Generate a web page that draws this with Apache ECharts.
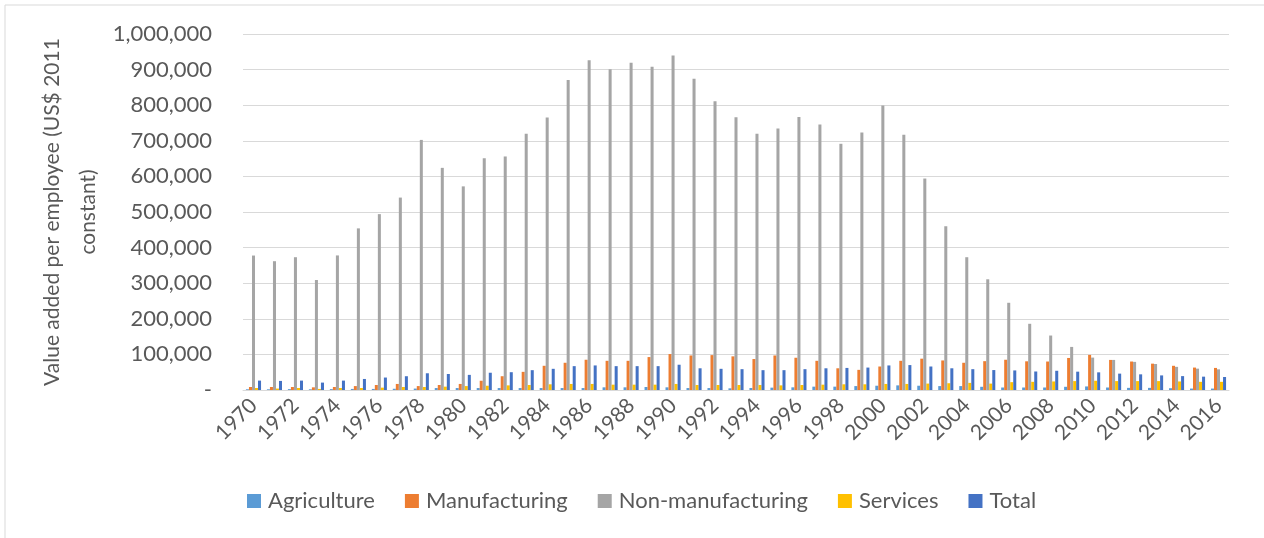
<!DOCTYPE html>
<html>
<head>
<meta charset="utf-8">
<script src="https://cdn.jsdelivr.net/npm/echarts@6/dist/echarts.min.js"></script>
<style>
  html, body { margin: 0; padding: 0; background: #ffffff; }
  #chart { width: 1264px; height: 538px; }
</style>
</head>
<body>
<div id="chart"></div>
<script>
// Years on the category axis
const years = [];
for (let y = 1970; y <= 2016; y++) years.push(String(y));

// Value added per employee, US$ 2011 constant
const agriculture = [
  2000, 2000, 2500, 2000, 2500, 3000, 3000, 3500, 4000, 5500,
  5500, 5500, 5500, 5500, 5500, 5500, 5500, 7500, 7500, 8500,
  7500, 5500, 5500, 4700, 5700, 6600, 7500, 9400, 9400, 11000,
  12000, 13000, 12000, 11000, 11000, 9000, 7000, 7000, 7000, 9000,
  10000, 7000, 6000, 6000, 5000, 4000, 4000
];
const manufacturing = [
  8500, 8500, 8500, 7500, 8500, 11000, 14000, 17000, 11000, 14000,
  17000, 26000, 38700, 51000, 68000, 76500, 85000, 82000, 82000, 92500,
  101000, 97000, 98000, 94500, 87000, 97000, 90600, 82000, 61000, 56600,
  66000, 82000, 88000, 83000, 76500, 81000, 85000, 80600, 80000, 90000,
  98600, 84500, 80000, 74000, 68000, 63000, 62000
];
const nonManufacturing = [
  377700, 361800, 373000, 309000, 378000, 454000, 494000, 540500, 702500, 624000,
  572000, 651000, 656000, 719700, 765500, 871000, 926500, 901000, 919000, 908000,
  939600, 874000, 811000, 766000, 719700, 734600, 767000, 746000, 691600, 723000,
  799000, 717000, 594000, 460000, 373000, 311000, 245000, 186000, 153000, 121000,
  91000, 84500, 79000, 73000, 65000, 60000, 58000
];
const services = [
  5700, 4000, 5700, 3000, 5700, 5700, 6600, 8500, 8500, 9400,
  11000, 12000, 13000, 14000, 16000, 17000, 17000, 15000, 15000, 15000,
  17000, 14000, 14000, 14000, 14000, 13000, 14000, 15000, 16000, 16000,
  17000, 17000, 18000, 19000, 20000, 18000, 22000, 23000, 24000, 25000,
  26000, 25000, 25000, 25000, 24000, 23000, 23000
];
const total = [
  26400, 25500, 26400, 20800, 26400, 31000, 35000, 38700, 47000, 45000,
  42500, 48500, 50000, 55700, 59500, 67000, 69000, 67000, 67000, 67000,
  71000, 61000, 59500, 58500, 55700, 55700, 58500, 61000, 62000, 63000,
  69000, 70000, 66000, 61000, 58500, 56000, 55000, 52000, 54000, 51500,
  49600, 46000, 44000, 41000, 39000, 37500, 36600
];

const seriesNames = ['Agriculture', 'Manufacturing', 'Non-manufacturing', 'Services', 'Total'];
const seriesColors = ['#5B9BD5', '#ED7D31', '#A5A5A5', '#FFC000', '#4472C4'];
const seriesData = [agriculture, manufacturing, nonManufacturing, services, total];

const FONT = 'Lato, "Liberation Sans", sans-serif';
const TEXT = '#595959';

const chart = echarts.init(document.getElementById('chart'), null, { renderer: 'canvas' });

chart.setOption({
  backgroundColor: '#ffffff',
  animation: false,
  textStyle: { fontFamily: FONT, color: TEXT },
  graphic: [{
    type: 'rect',
    shape: { x: 5, y: 5, width: 1400, height: 700 },
    style: { fill: 'none', stroke: '#d9d9d9', lineWidth: 1 },
    silent: true,
    z: -1
  }],
  grid: { left: 243, right: 35, top: 34, bottom: 148, containLabel: false },
  legend: {
    data: seriesNames,
    left: 242,
    top: 485,
    itemWidth: 14,
    itemHeight: 14,
    itemGap: 30,
    icon: 'rect',
    textStyle: { fontFamily: FONT, fontSize: 22, color: TEXT, padding: [0, 0, 0, 2] }
  },
  xAxis: {
    type: 'category',
    data: years,
    axisTick: { show: false },
    axisLine: { lineStyle: { color: '#d9d9d9', width: 1 } },
    axisLabel: {
      interval: 1,
      rotate: 45,
      margin: 12,
      fontFamily: FONT,
      fontSize: 21,
      color: TEXT
    }
  },
  yAxis: {
    type: 'value',
    min: 0,
    max: 1000000,
    interval: 100000,
    name: 'Value added per employee (US$ 2011\nconstant)',
    nameLocation: 'middle',
    nameRotate: 90,
    nameGap: 137,
    nameMoveOverlap: false,
    nameTextStyle: { fontFamily: FONT, fontSize: 21, color: TEXT, lineHeight: 36, align: 'center' },
    axisLine: { show: false },
    axisTick: { show: false },
    splitLine: { lineStyle: { color: '#d9d9d9', width: 1 } },
    axisLabel: {
      margin: 31,
      fontFamily: FONT,
      fontSize: 22,
      color: TEXT,
      formatter: v => v === 0 ? '-' : v.toLocaleString('en-US')
    }
  },
  series: seriesNames.map((name, i) => ({
    name,
    type: 'bar',
    data: seriesData[i],
    barGap: '0%',
    barCategoryGap: '28%',
    itemStyle: { color: seriesColors[i] }
  }))
});
</script>
</body>
</html>
